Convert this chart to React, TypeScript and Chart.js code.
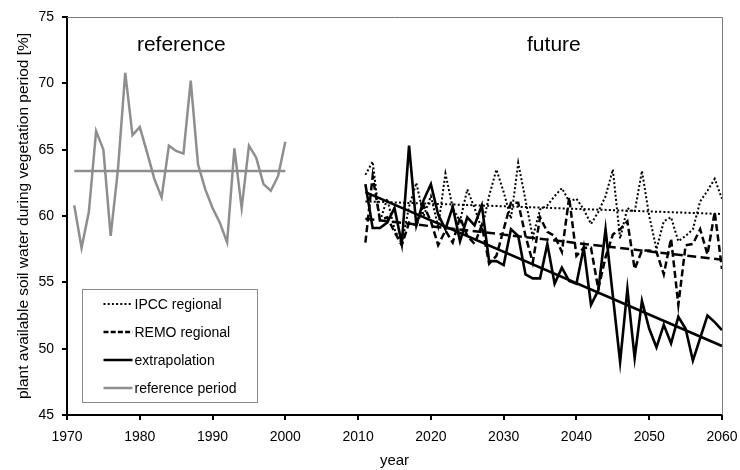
import React, { useEffect, useRef } from "react";
import { Chart, registerables } from "chart.js";

Chart.register(...registerables);

// ---------- data ----------
const refYears = [
  1971, 1972, 1973, 1974, 1975, 1976, 1977, 1978, 1979, 1980,
  1981, 1982, 1983, 1984, 1985, 1986, 1987, 1988, 1989, 1990,
  1991, 1992, 1993, 1994, 1995, 1996, 1997, 1998, 1999, 2000,
];
const refValues = [
  60.8, 57.6, 60.3, 66.4, 65.0, 58.5, 63.5, 70.8, 66.1, 66.7,
  64.8, 62.8, 61.4, 65.3, 64.9, 64.7, 70.2, 63.9, 62.0, 60.6,
  59.5, 58.0, 65.1, 60.6, 65.3, 64.4, 62.4, 61.9, 63.0, 65.6,
];

const futureYears = [
  2011, 2012, 2013, 2014, 2015, 2016, 2017, 2018, 2019, 2020,
  2021, 2022, 2023, 2024, 2025, 2026, 2027, 2028, 2029, 2030,
  2031, 2032, 2033, 2034, 2035, 2036, 2037, 2038, 2039, 2040,
  2041, 2042, 2043, 2044, 2045, 2046, 2047, 2048, 2049, 2050,
  2051, 2052, 2053, 2054, 2055, 2056, 2057, 2058, 2059, 2060,
];
const ipccValues = [
  63.1, 64.1, 59.6, 61.3, 59.0, 57.9, 60.7, 62.5, 60.0, 61.5,
  59.2, 63.2, 60.6, 59.6, 62.0, 60.6, 59.0, 61.5, 63.5, 61.8,
  59.8, 64.0, 61.2, 58.4, 60.5, 60.8, 61.5, 62.1, 61.1, 61.3,
  60.5, 59.4, 60.3, 61.5, 63.5, 58.3, 60.6, 60.3, 63.4, 60.0,
  57.5, 59.6, 59.9, 58.1, 58.5, 59.0, 61.1, 61.9, 62.8, 61.3,
];
const remoValues = [
  58.0, 63.0, 59.7, 59.9, 58.8, 57.8, 59.5, 59.3, 60.8, 59.6,
  57.8, 58.9, 58.0, 59.9, 58.5, 57.9, 59.3, 56.4, 57.0, 59.0,
  61.0, 61.0, 58.5, 56.5, 59.9, 58.8, 58.5, 57.3, 61.4, 57.0,
  57.6, 57.6, 54.5, 56.9, 58.6, 59.0, 59.6, 56.0, 57.4, 57.4,
  57.3, 55.6, 58.3, 53.3, 57.8, 57.9, 59.0, 57.1, 60.3, 56.0,
];
const extrapValues = [
  62.4, 59.1, 59.1, 59.5, 60.6, 57.9, 65.3, 59.3, 61.2, 62.4,
  60.1, 59.0, 60.7, 58.1, 59.9, 59.3, 60.8, 56.6, 56.6, 56.3,
  59.0, 58.5, 55.6, 55.3, 55.3, 57.9, 54.9, 56.1, 55.1, 54.9,
  57.6, 53.3, 54.4, 59.0, 54.0, 49.0, 54.5, 49.3, 53.6, 51.5,
  50.1, 51.8, 50.4, 52.4, 51.5, 49.1, 50.8, 52.5, 52.0, 51.4,
];

const refMeanYears = [1971, 2000];
const refMeanValues = [63.4, 63.4];
const trendYears = [2011, 2060];
const ipccTrend = [61.1, 60.15];
const remoTrend = [59.8, 56.7];
const extrapTrend = [61.8, 50.2];

const xTicks = [1970, 1980, 1990, 2000, 2010, 2020, 2030, 2040, 2050, 2060];
const yTicks = [45, 50, 55, 60, 65, 70, 75];

const legendLabels = ["IPCC regional", "REMO regional", "extrapolation", "reference period"];
const periodLabels = ["reference", "future"];
const periodCenters = [1985.7, 2036.9];
const xTitle = "year";
const yTitle = "plant available soil water during vegetation period [%]";

const FONT = '"Liberation Sans", Arial, sans-serif';
const GRAY = "#8e8e8e";

const pts = (xs: number[], ys: number[]) => xs.map((x, i) => ({ x, y: ys[i] }));

const dotted = [2, 2.2];
const dashed = [7, 3.5];
const trendDashed = [9, 4.5];

const overlayPlugin = {
  id: "overlay",
  afterDraw(chart: any) {
    const { ctx, chartArea, scales } = chart;
    const xs = scales.x;
    ctx.save();
    // top & right frame
    ctx.strokeStyle = "#7a7a7a";
    ctx.lineWidth = 1;
    ctx.beginPath();
    ctx.moveTo(chartArea.left, chartArea.top + 0.5);
    ctx.lineTo(chartArea.right + 0.5, chartArea.top + 0.5);
    ctx.lineTo(chartArea.right + 0.5, chartArea.bottom);
    ctx.stroke();

    // period titles
    ctx.fillStyle = "#000";
    ctx.font = `21px ${FONT}`;
    ctx.textAlign = "center";
    ctx.textBaseline = "alphabetic";
    periodLabels.forEach((t, i) => {
      ctx.fillText(t, xs.getPixelForValue(periodCenters[i]), chartArea.top + 34);
    });

    // legend box
    const bx = chartArea.left + 15.5;
    const by = chartArea.bottom - 125.5;
    const bw = 175;
    const bh = 113;
    ctx.fillStyle = "#fff";
    ctx.fillRect(bx, by, bw, bh);
    ctx.strokeStyle = "#8a8a8a";
    ctx.lineWidth = 1;
    ctx.strokeRect(bx, by, bw, bh);

    const styles = [
      { color: "#000", width: 2, dash: dotted },
      { color: "#000", width: 2.5, dash: [5, 2.2] },
      { color: "#000", width: 2.5, dash: [] as number[] },
      { color: GRAY, width: 2.5, dash: [] as number[] },
    ];
    ctx.font = `14px ${FONT}`;
    ctx.textAlign = "left";
    ctx.textBaseline = "middle";
    legendLabels.forEach((label, i) => {
      const y = by + 14.5 + i * 28;
      const st = styles[i];
      ctx.strokeStyle = st.color;
      ctx.lineWidth = st.width;
      ctx.setLineDash(st.dash);
      ctx.beginPath();
      ctx.moveTo(bx + 21, y);
      ctx.lineTo(bx + 50, y);
      ctx.stroke();
      ctx.setLineDash([]);
      ctx.fillStyle = "#000";
      ctx.fillText(label, bx + 52, y + 1);
    });
    ctx.restore();
  },
};

export default function App() {
  const canvasRef = useRef<HTMLCanvasElement>(null);

  useEffect(() => {
    const canvas = canvasRef.current!;
    Chart.defaults.font.family = FONT;
    const chart = new Chart(canvas, {
      type: "line",
      data: {
        datasets: [
          {
            label: "reference period",
            data: pts(refYears, refValues),
            borderColor: GRAY,
            borderWidth: 2.5,
          },
          {
            label: "reference mean",
            data: pts(refMeanYears, refMeanValues),
            borderColor: GRAY,
            borderWidth: 2.5,
          },
          {
            label: "IPCC regional",
            data: pts(futureYears, ipccValues),
            borderColor: "#000",
            borderWidth: 2,
            borderDash: dotted,
          },
          {
            label: "IPCC trend",
            data: pts(trendYears, ipccTrend),
            borderColor: "#000",
            borderWidth: 2,
            borderDash: dotted,
          },
          {
            label: "REMO regional",
            data: pts(futureYears, remoValues),
            borderColor: "#000",
            borderWidth: 2.5,
            borderDash: dashed,
          },
          {
            label: "REMO trend",
            data: pts(trendYears, remoTrend),
            borderColor: "#000",
            borderWidth: 2.5,
            borderDash: trendDashed,
          },
          {
            label: "extrapolation",
            data: pts(futureYears, extrapValues),
            borderColor: "#000",
            borderWidth: 2.6,
          },
          {
            label: "extrapolation trend",
            data: pts(trendYears, extrapTrend),
            borderColor: "#000",
            borderWidth: 2.6,
          },
        ],
      },
      options: {
        responsive: false,
        animation: false,
        devicePixelRatio: 1,
        layout: { padding: { top: 17, right: 18, left: 0, bottom: 0 } },
        elements: {
          point: { radius: 0, hoverRadius: 0 },
          line: { tension: 0, fill: false, borderCapStyle: "butt", borderJoinStyle: "miter" },
        },
        plugins: {
          legend: { display: false },
          tooltip: { enabled: false },
        },
        scales: {
          x: {
            type: "linear",
            min: 1970,
            max: 2060,
            afterBuildTicks: (s: any) => {
              s.ticks = xTicks.map((v) => ({ value: v }));
            },
            afterFit: (s: any) => {
              s.height = 55;
              s.paddingLeft = 0;
              s.paddingRight = 0;
            },
            ticks: {
              color: "#000",
              font: { size: 14 },
              padding: 9,
              maxRotation: 0,
              autoSkip: false,
              callback: (v: any) => String(v),
            },
            grid: {
              display: true,
              drawOnChartArea: false,
              drawTicks: true,
              tickLength: 5,
              color: "#000",
              lineWidth: 2,
            },
            border: { display: true, color: "#000", width: 2 },
            title: {
              display: true,
              text: xTitle,
              color: "#000",
              font: { size: 15 },
              padding: { top: 0, bottom: 0 },
            },
          },
          y: {
            type: "linear",
            min: 45,
            max: 75,
            afterBuildTicks: (s: any) => {
              s.ticks = yTicks.map((v) => ({ value: v }));
            },
            afterFit: (s: any) => {
              s.width = 67;
            },
            ticks: {
              color: "#000",
              font: { size: 14 },
              padding: 8,
              callback: (v: any) => String(v),
            },
            grid: {
              display: true,
              drawOnChartArea: false,
              drawTicks: true,
              tickLength: 5,
              color: "#000",
              lineWidth: 2,
            },
            border: { display: true, color: "#000", width: 2 },
            title: {
              display: true,
              text: yTitle,
              color: "#000",
              font: { size: 15.5 },
              padding: { top: 14, bottom: 0 },
            },
          },
        },
      },
      plugins: [overlayPlugin],
    } as any);
    return () => chart.destroy();
  }, []);

  return (
    <div style={{ position: "fixed", left: 0, top: 0, width: 740, height: 470, background: "#fff" }}>
      <canvas ref={canvasRef} width={740} height={470} style={{ display: "block", width: 740, height: 470 }} />
    </div>
  );
}
